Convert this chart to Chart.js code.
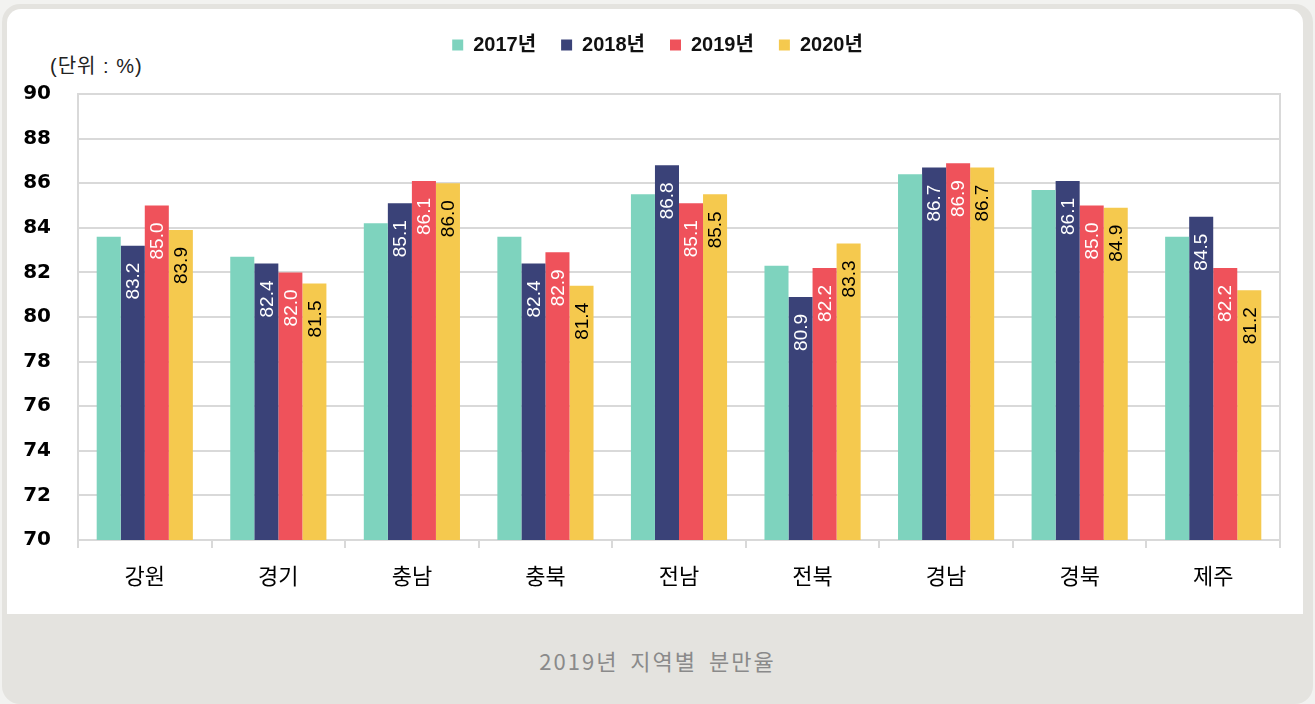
<!DOCTYPE html>
<html>
<head>
<meta charset="utf-8">
<script src="https://cdn.jsdelivr.net/npm/chart.js@4/dist/chart.umd.min.js"></script>
<style>
  html, body { margin: 0; padding: 0; width: 1315px; height: 704px; overflow: hidden; background: #f2f2f0; }
  #card { position: absolute; left: 2px; top: 4px; width: 1311px; height: 700px; background: #e4e3df; border-radius: 18px; }
  #inner { position: absolute; left: 7px; top: 9px; width: 1296px; height: 605px; background: #ffffff; border-radius: 14px 14px 0 0; }
  #wrap { position: absolute; left: 0; top: 0; width: 1315px; height: 614px; }
  #unit { position: absolute; left: 50px; top: 51px; font-family: 'Liberation Sans', 'Noto Sans CJK KR', sans-serif; font-size: 20px; letter-spacing: 1px; color: #222; line-height: 30px; white-space: nowrap; }
  #caption { position: absolute; left: 0; width: 1315px; top: 645px; text-align: center; font-family: 'Noto Sans CJK KR', sans-serif; font-size: 22px; letter-spacing: 2px; word-spacing: 5px; color: #8a8a8a; line-height: 30px; }
</style>
</head>
<body>
<div id="card"></div>
<div id="inner"></div>
<div id="unit">(단위 : %)</div>
<div id="caption">2019년 지역별 분만율</div>
<div id="wrap"><canvas id="c" width="1315" height="614"></canvas></div>
<script>
const categories = ['강원', '경기', '충남', '충북', '전남', '전북', '경남', '경북', '제주'];
const seriesNames = ['2017년', '2018년', '2019년', '2020년'];
const values2017 = [83.6, 82.7, 84.2, 83.6, 85.5, 82.3, 86.4, 85.7, 83.6];
const values2018 = [83.2, 82.4, 85.1, 82.4, 86.8, 80.9, 86.7, 86.1, 84.5];
const values2019 = [85.0, 82.0, 86.1, 82.9, 85.1, 82.2, 86.9, 85.0, 82.2];
const values2020 = [83.9, 81.5, 86.0, 81.4, 85.5, 83.3, 86.7, 84.9, 81.2];
const seriesColors = ['#7ED3BE', '#3A4278', '#EF525B', '#F5C94E'];
const labelColors = [null, '#ffffff', '#ffffff', '#000000'];
const yMin = 70, yMax = 90, yStep = 2;

const latin = "'Liberation Sans', 'Noto Sans CJK KR', sans-serif";
const gridColor = '#d9d9d9';

const legendSpacer = {
  id: 'legendSpacer',
  beforeInit(chart) {
    const lg = chart.legend;
    if (!lg) return;
    const origFit = lg.fit;
    lg.fit = function () {
      origFit.call(this);
      this.height = 84;
    };
  }
};

const barLabels = {
  id: 'barLabels',
  afterDatasetsDraw(chart) {
    const ctx = chart.ctx;
    chart.data.datasets.forEach((ds, i) => {
      const col = labelColors[i];
      if (!col) return;
      const meta = chart.getDatasetMeta(i);
      meta.data.forEach((bar, j) => {
        const v = ds.data[j];
        ctx.save();
        ctx.translate(bar.x, bar.y + 17);
        ctx.rotate(-Math.PI / 2);
        ctx.font = "19px 'Liberation Sans', sans-serif";
        ctx.fillStyle = col;
        ctx.textAlign = 'right';
        ctx.textBaseline = 'middle';
        ctx.fillText(v.toFixed(1), 0, 1);
        ctx.restore();
      });
    });
  }
};

const allSeries = [values2017, values2018, values2019, values2020];

new Chart(document.getElementById('c'), {
  type: 'bar',
  data: {
    labels: categories,
    datasets: allSeries.map((d, i) => ({
      label: seriesNames[i],
      data: d,
      backgroundColor: seriesColors[i],
      borderWidth: 0,
      categoryPercentage: 0.72,
      barPercentage: 1.0,
      yAxisID: 'y'
    }))
  },
  options: {
    responsive: false,
    animation: false,
    layout: { padding: { top: 10, left: 0, right: 0, bottom: 0 } },
    plugins: {
      tooltip: { enabled: false },
      title: { display: false },
      legend: {
        position: 'top',
        align: 'center',
        labels: {
          boxWidth: 11,
          boxHeight: 11,
          padding: 25,
          color: '#111',
          font: { family: latin, size: 20, weight: 'bold' }
        }
      }
    },
    scales: {
      x: {
        grid: { drawOnChartArea: false, drawTicks: true, tickLength: 8, color: gridColor, lineWidth: 2, offset: true },
        border: { display: true, color: gridColor, width: 2 },
        ticks: { color: '#000', padding: 14, font: { family: "'Noto Sans CJK KR', sans-serif", size: 22 } },
        afterFit(axis) { axis.height = 74; }
      },
      y: {
        min: yMin, max: yMax,
        ticks: { stepSize: yStep, color: '#000', padding: 27, font: { family: "'DejaVu Sans', sans-serif", size: 20, weight: 'bold' } },
        grid: { color: gridColor, lineWidth: 2, drawTicks: false },
        border: { display: true, color: gridColor, width: 2 },
        afterFit(axis) { axis.width = 78; }
      },
      y2: {
        position: 'right',
        min: yMin, max: yMax,
        ticks: { display: false },
        grid: { drawOnChartArea: false, drawTicks: false },
        border: { display: true, color: gridColor, width: 2 },
        afterFit(axis) { axis.width = 35; }
      }
    }
  },
  plugins: [legendSpacer, barLabels]
});
</script>
</body>
</html>
